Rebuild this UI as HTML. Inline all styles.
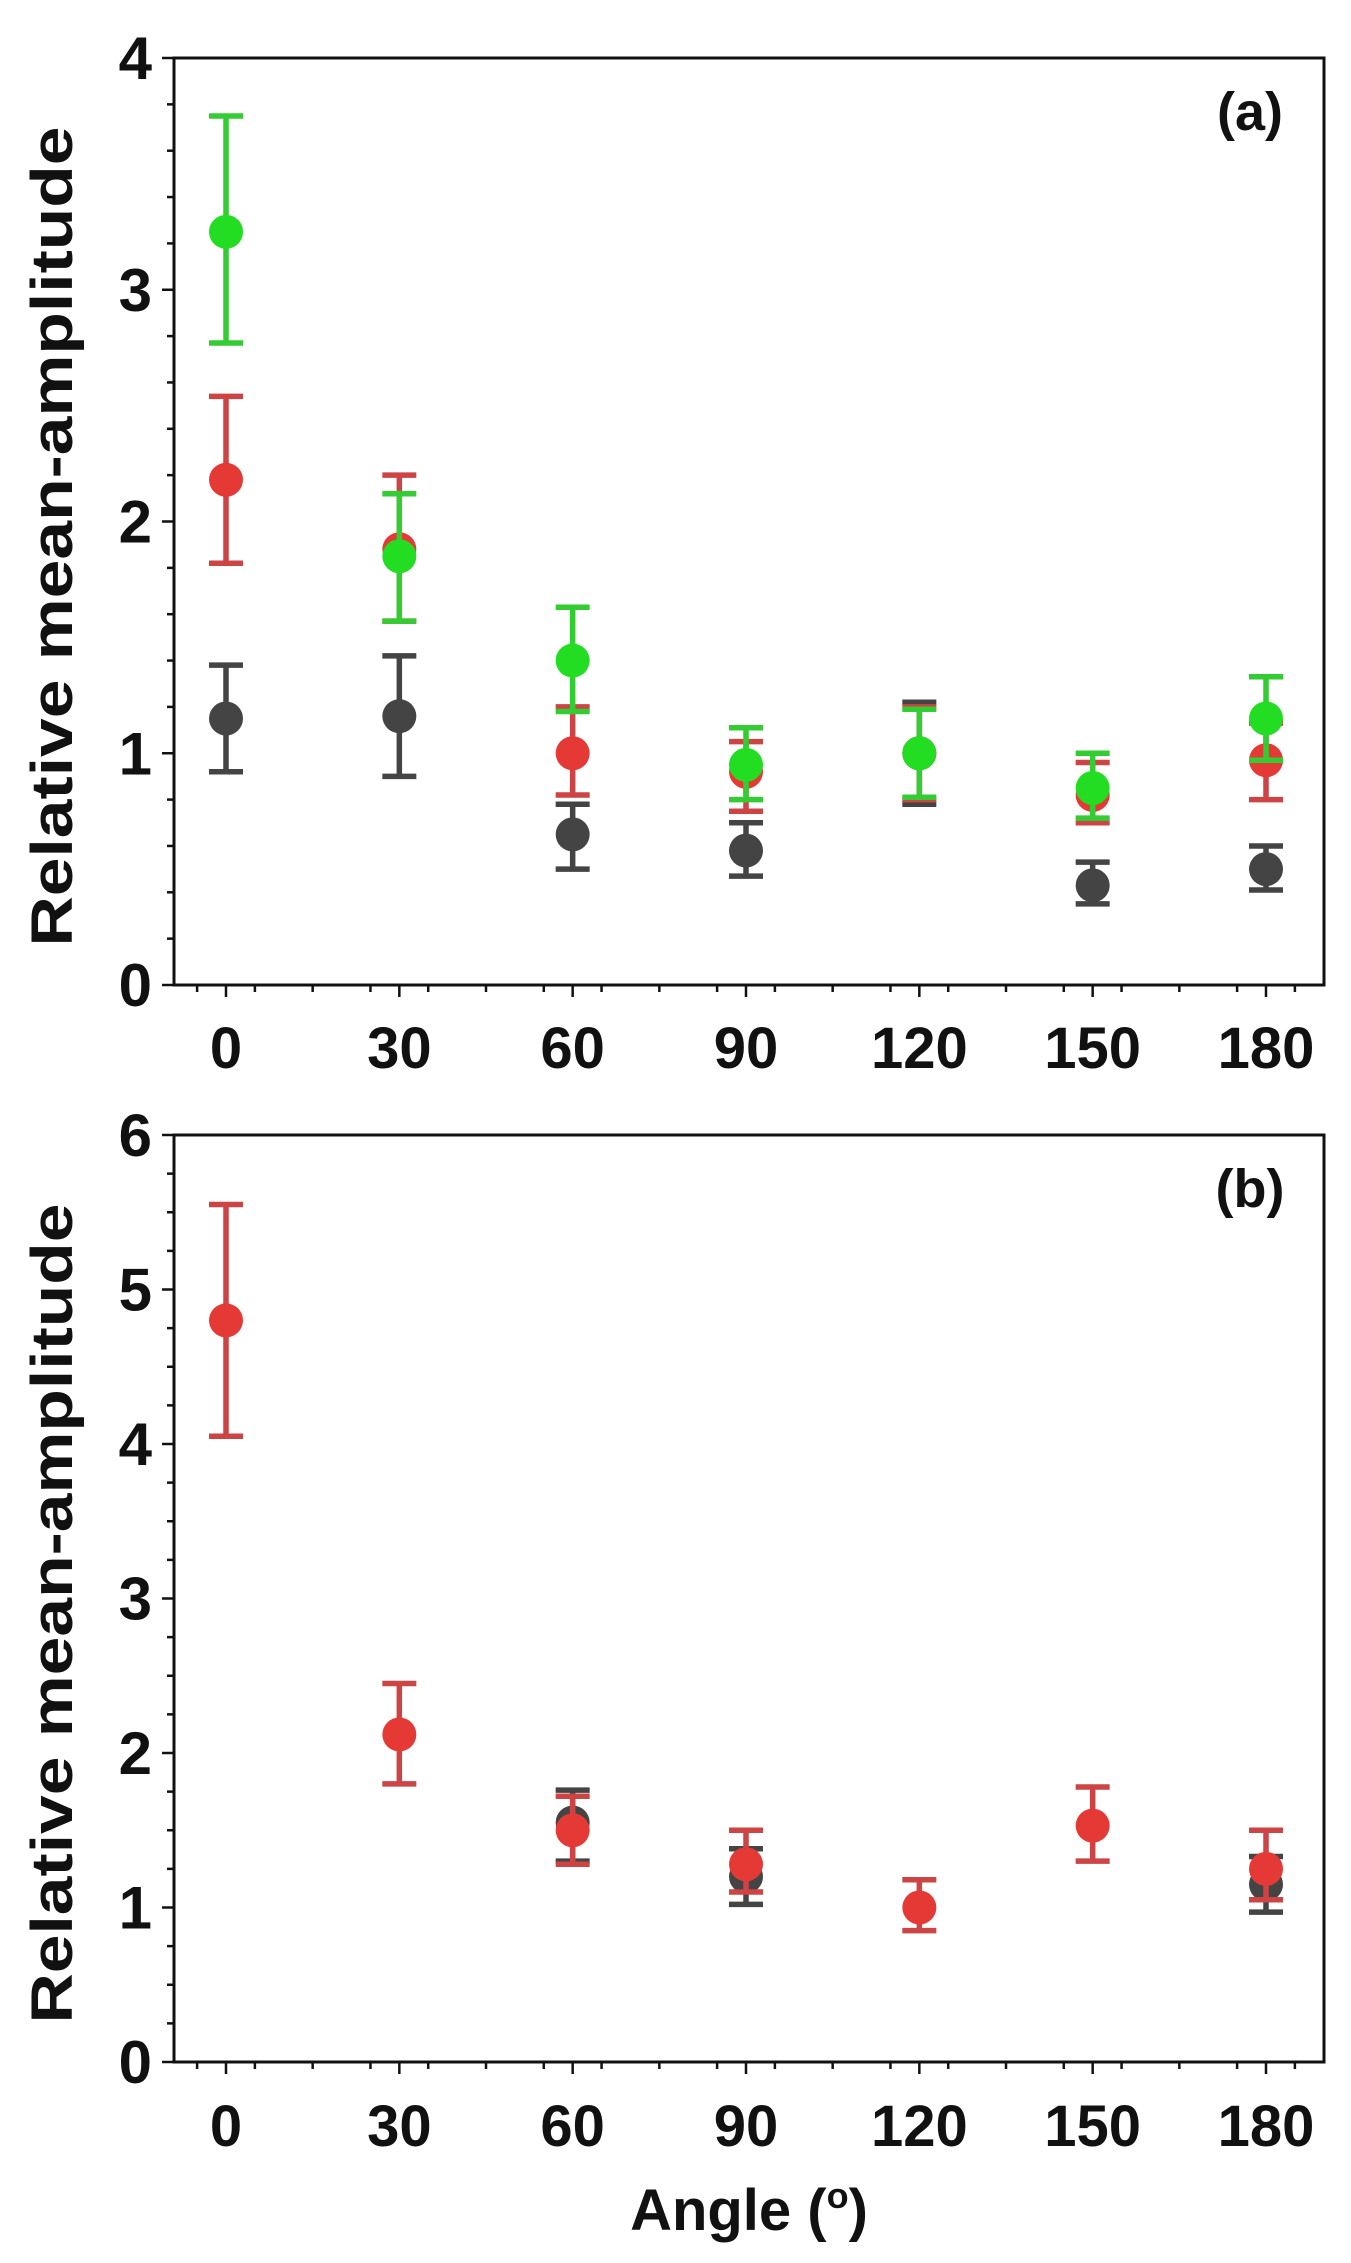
<!DOCTYPE html>
<html><head><meta charset="utf-8"><style>
html,body{margin:0;padding:0;background:#fff;}
svg{display:block;}
text{font-family:"Liberation Sans",sans-serif;font-weight:bold;fill:#111;}
</style></head><body>
<svg id="chart" width="1351" height="2263" viewBox="0 0 1351 2263" xmlns="http://www.w3.org/2000/svg"></svg>
<script>
const angles = [0,30,60,90,120,150,180];
const aGreen = [3.25,1.85,1.40,0.95,1.00,0.85,1.15];
const aGreenHi = [3.75,2.12,1.63,1.11,1.19,1.00,1.33];
const aGreenLo = [2.77,1.57,1.18,0.80,0.81,0.72,0.97];
const aRed = [2.18,1.88,1.00,0.92,1.00,0.82,0.97];
const aRedHi = [2.54,2.20,1.20,1.05,1.20,0.96,1.13];
const aRedLo = [1.82,1.57,0.82,0.75,0.80,0.70,0.80];
const aGray = [1.15,1.16,0.65,0.58,1.00,0.43,0.50];
const aGrayHi = [1.38,1.42,0.78,0.70,1.22,0.53,0.60];
const aGrayLo = [0.92,0.90,0.50,0.47,0.78,0.35,0.41];
const bAngles = [0,30,60,90,120,150,180];
const bRed = [4.80,2.12,1.50,1.28,1.00,1.53,1.25];
const bRedHi = [5.55,2.45,1.72,1.50,1.18,1.78,1.50];
const bRedLo = [4.05,1.80,1.28,1.10,0.85,1.30,1.05];
const bGrayAngles = [60,90,180];
const bGray = [1.55,1.20,1.15];
const bGrayHi = [1.76,1.38,1.33];
const bGrayLo = [1.30,1.02,0.97];
const xTicks = [0,30,60,90,120,150,180];
const aYTicks = [0,1,2,3,4];
const bYTicks = [0,1,2,3,4,5,6];

const NS="http://www.w3.org/2000/svg";
const svg=document.getElementById('chart');
function mk(tag,attrs,parent){const e=document.createElementNS(NS,tag);for(const k in attrs)e.setAttribute(k,attrs[k]);(parent||svg).appendChild(e);return e;}

function panel(cfg){
  const g=mk('g',{});
  
  
  const L=174,R=1324,T=cfg.top,B=cfg.bottom;
  const x=v=>226+v/180*(1266-226);
  const y=v=>B-(v/cfg.ymax)*(B-T);
  const fr=mk('rect',{x:L,y:T,width:R-L,height:B-T,fill:'none',stroke:'#111','stroke-width':3},g);
  
  
  for(let d=-5;d<=185;d+=10){
    const major=xTicks.includes(d);
    mk('line',{x1:x(d),x2:x(d),y1:B,y2:B+7,stroke:'#111','stroke-width':2.5},g);
  }
  xTicks.forEach(d=>{
    mk('line',{x1:x(d),x2:x(d),y1:B,y2:B+12,stroke:'#111','stroke-width':2.5},g);
    const t=mk('text',{x:x(d),y:cfg.xLabelY,'text-anchor':'middle','font-size':58},g);
    t.textContent=d;
    
    
  });
  for(let v=0;v<=cfg.ymax+1e-9;v+=cfg.minor){
    const major=Math.abs(v-Math.round(v))<1e-6;
    mk('line',{x1:L,x2:L-(major?12:7),y1:y(v),y2:y(v),stroke:'#111','stroke-width':2.5},g);
  }
  cfg.yTicks.forEach(v=>{
    const t=mk('text',{x:L-22,y:y(v)+21,'text-anchor':'end','font-size':60},g);
    t.textContent=v;
    
    
  });
  const yt=mk('text',{x:0,y:0,'text-anchor':'middle','font-size':58,transform:`translate(72,${(T+B)/2+15}) rotate(-90)`},g);
  yt.textContent='Relative mean-amplitude';
  yt.setAttribute('textLength',820);
  yt.setAttribute('lengthAdjust','spacingAndGlyphs');
  
  
  const pl=mk('text',{x:1250,y:T+72,'text-anchor':'middle','font-size':54},g);
  pl.textContent=cfg.label;
  
  
  cfg.series.forEach(s=>{
    const sg=mk('g',{},g);
    
    
    s.xs.forEach((a,i)=>{
      const cx=x(a);
      const eb=mk('path',{d:`M${cx-17},${y(s.hi[i])}H${cx+17}M${cx},${y(s.hi[i])}V${y(s.lo[i])}M${cx-17},${y(s.lo[i])}H${cx+17}`,stroke:s.bar,'stroke-width':5.5,fill:'none'},sg);
      
      
      const c=mk('circle',{cx:cx,cy:y(s.v[i]),r:17,fill:s.fill},sg);
      
      
    });
  });
}
panel({name:'panel-a',top:58,bottom:985,ymax:4,minor:0.2,yTicks:aYTicks,xLabelY:1068,label:'(a)',
  series:[
    {name:'series-gray',xs:angles,v:aGray,hi:aGrayHi,lo:aGrayLo,fill:'#444',bar:'#444'},
    {name:'series-red',xs:angles,v:aRed,hi:aRedHi,lo:aRedLo,fill:'#e53935',bar:'#cc4444'},
    {name:'series-green',xs:angles,v:aGreen,hi:aGreenHi,lo:aGreenLo,fill:'#22dd22',bar:'#33cc33'}
  ]});
panel({name:'panel-b',top:1135,bottom:2062,ymax:6,minor:0.25,yTicks:bYTicks,xLabelY:2146,label:'(b)',
  series:[
    {name:'series-gray',xs:bGrayAngles,v:bGray,hi:bGrayHi,lo:bGrayLo,fill:'#444',bar:'#444'},
    {name:'series-red',xs:bAngles,v:bRed,hi:bRedHi,lo:bRedLo,fill:'#e53935',bar:'#cc4444'}
  ]});
const xt=mk('text',{x:749,y:2230,'text-anchor':'middle','font-size':58});
xt.textContent='Angle (';
const sup=mk('tspan',{'font-size':36,dy:-22},xt);sup.textContent='o';
const cl=mk('tspan',{dy:22},xt);cl.textContent=')';


</script>
</body></html>
